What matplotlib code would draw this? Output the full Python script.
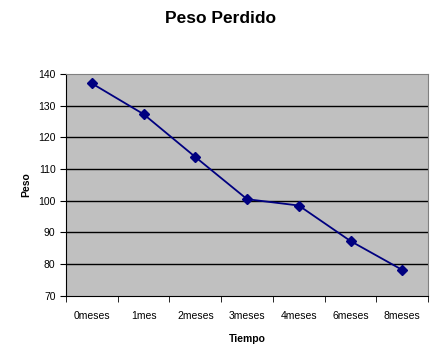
import matplotlib.pyplot as plt
import numpy as np

categories = ['0meses', '1mes', '2meses', '3meses', '4meses', '6meses', '8meses']
peso = [137, 127.3, 113.8, 100.5, 98.5, 87.3, 78.2]
y_ticks = [70, 80, 90, 100, 110, 120, 130, 140]

plt.rcParams['font.family'] = ['Liberation Sans', 'DejaVu Sans']

fig = plt.figure(figsize=(4.4, 3.64), dpi=100)
ax = fig.add_axes([0.15, 0.187, 0.823, 0.61])

x = np.arange(len(categories))
ax.set_facecolor('#c0c0c0')
for t in y_ticks[1:-1]:
    ax.axhline(t, color='black', linewidth=1, zorder=1)
ax.plot(x, peso, color='#000080', linewidth=1.3, marker='D', markersize=5.5, zorder=3)

ax.set_xlim(-0.5, len(categories) - 0.5)
ax.set_ylim(70, 140)
ax.set_yticks(y_ticks)
ax.set_xticks(x)
ax.set_xticklabels(categories, fontsize=7.5)
ax.set_xticks(np.arange(-0.5, len(categories)), minor=True)
ax.tick_params(axis='x', which='major', length=0, pad=11)
ax.tick_params(axis='x', which='minor', length=4, direction='out')
ax.tick_params(axis='y', labelsize=7.5, length=4, direction='out')

for s in ['top', 'right']:
    ax.spines[s].set_color('#808080')
for s in ['left', 'bottom']:
    ax.spines[s].set_color('black')

ax.set_xlabel('Tiempo', fontsize=7.5, fontweight='bold', labelpad=9)
ax.set_ylabel('Peso', fontsize=7.5, fontweight='bold', labelpad=5)
fig.suptitle('Peso Perdido', fontsize=12.5, fontweight='bold', y=0.97)

fig.savefig('out.png', dpi=100)
